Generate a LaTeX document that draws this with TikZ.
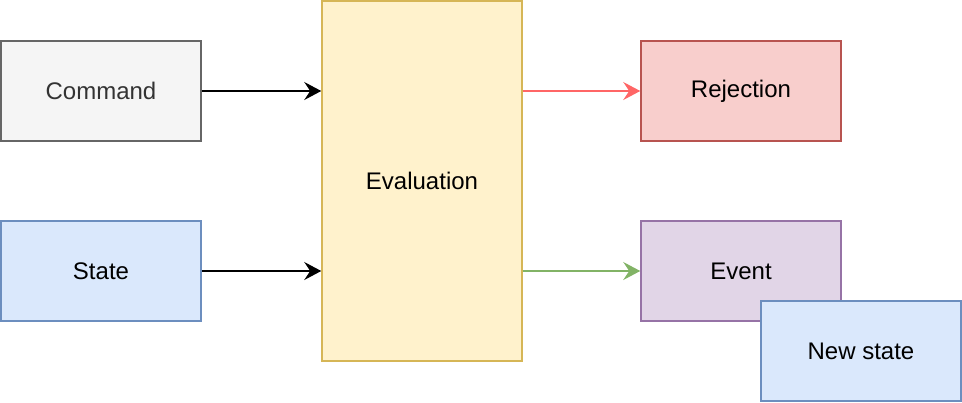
\documentclass[tikz,border=0pt]{standalone}
\usepackage{fontspec}
\setmainfont{Liberation Sans}
\usetikzlibrary{arrows.meta}
\definecolor{grayfill}{HTML}{F5F5F5}
\definecolor{graydraw}{HTML}{666666}
\definecolor{graytext}{HTML}{333333}
\definecolor{bluefill}{HTML}{DAE8FC}
\definecolor{bluedraw}{HTML}{6C8EBF}
\definecolor{yellowfill}{HTML}{FFF2CC}
\definecolor{yellowdraw}{HTML}{D6B656}
\definecolor{redfill}{HTML}{F8CECC}
\definecolor{reddraw}{HTML}{B85450}
\definecolor{redarrow}{HTML}{FF6666}
\definecolor{purplefill}{HTML}{E1D5E7}
\definecolor{purpledraw}{HTML}{9673A6}
\definecolor{greenarrow}{HTML}{82B366}

\begin{document}
\begin{tikzpicture}
  [x=1pt,y=-1pt,line width=1.5pt,
   every node/.style={rectangle,draw,minimum width=200pt,minimum height=100pt,
     inner sep=0pt,font=\fontsize{24}{28}\selectfont},
   arr/.style={-{Stealth[length=17pt,width=18pt,inset=6pt]}}]
  \useasboundingbox (0,0) rectangle (962,402);
  \node[fill=grayfill,draw=graydraw,text=graytext] (cmd) at (101,91) {Command};
  \node[fill=bluefill,draw=bluedraw] (state) at (101,271) {State};
  \node[fill=yellowfill,draw=yellowdraw,minimum height=360pt] (eval) at (422,181) {Evaluation};
  \node[fill=redfill,draw=reddraw] (rej) at (741,91) {Rejection};
  \node[fill=purplefill,draw=purpledraw] (event) at (741,271) {Event};
  \node[fill=bluefill,draw=bluedraw] (new) at (861,351) {New state};

  \foreach \from in {cmd,state}
    \draw[arr] (\from.east) -- (\from.east -| eval.west);
  \foreach \to/\col in {rej/redarrow,event/greenarrow}
    \draw[arr,\col] (eval.east |- \to.west) -- (\to.west);

\end{tikzpicture}
\end{document}
